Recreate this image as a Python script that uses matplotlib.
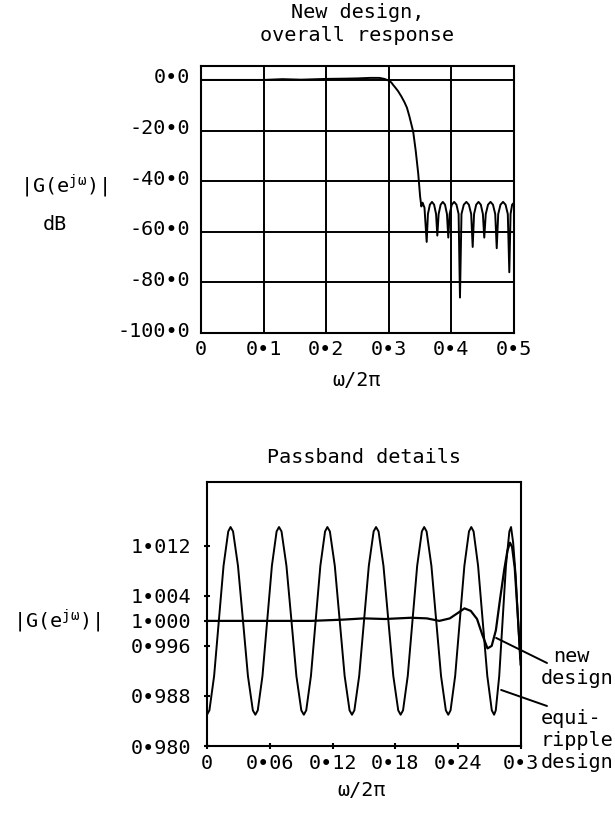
import numpy as np
import matplotlib.pyplot as plt
import matplotlib.transforms as mtransforms

plt.rcParams['font.family'] = 'DejaVu Sans Mono'
plt.rcParams['mathtext.fontset'] = 'custom'
plt.rcParams['mathtext.rm'] = 'DejaVu Sans Mono'
plt.rcParams['mathtext.it'] = 'DejaVu Sans Mono'

# overall response of the new design (dB)
overall_f = [0.000, 0.050, 0.100, 0.130, 0.160, 0.200, 0.230, 0.250, 0.270, 0.285, 0.293,
             0.300, 0.304, 0.307, 0.311, 0.315, 0.320, 0.325, 0.329, 0.333, 0.336, 0.339,
             0.343, 0.347, 0.350, 0.352, 0.354, 0.357,
             0.3605, 0.3625, 0.3656, 0.3690, 0.3724, 0.3755,
             0.3775, 0.3796, 0.3828, 0.3863, 0.3898, 0.3929,
             0.3950, 0.3972, 0.4006, 0.4044, 0.4081, 0.4115,
             0.4137, 0.4161, 0.4198, 0.4239, 0.4279, 0.4316,
             0.4340, 0.4362, 0.4396, 0.4433, 0.4470, 0.4503,
             0.4525, 0.4549, 0.4585, 0.4625, 0.4664, 0.4700,
             0.4724, 0.4748, 0.4784, 0.4825, 0.4865, 0.4901,
             0.4925, 0.4945, 0.4970, 0.5000]
overall_db = [0.0, 0.0, 0.0, 0.3, 0.1, 0.4, 0.5, 0.6, 0.8, 0.8, 0.4,
              -0.3, -1.0, -2.0, -3.2, -4.5, -6.5, -8.8, -11.0, -14.5, -17.5, -20.5,
              -28.0, -37.0, -46.0, -50.0, -48.5, -50.5,
              -64.0, -53.0, -49.3, -48.2, -49.3, -53.0,
              -61.5, -53.0, -49.3, -48.2, -49.3, -53.0,
              -62.3, -53.0, -49.3, -48.2, -49.3, -53.0,
              -86.0, -53.0, -49.3, -48.2, -49.3, -53.0,
              -66.0, -53.0, -49.3, -48.2, -49.3, -53.0,
              -62.3, -53.0, -49.3, -48.2, -49.3, -53.0,
              -66.5, -53.0, -49.3, -48.2, -49.3, -53.0,
              -76.0, -53.0, -49.3, -48.5]

# passband detail: equiripple design
eq_f = [0.0000, 0.0023, 0.0068, 0.0113, 0.0158, 0.0203,
        0.0225, 0.0249, 0.0296, 0.0344, 0.0391, 0.0438,
        0.0462, 0.0485, 0.0530, 0.0575, 0.0620, 0.0665,
        0.0688, 0.0712, 0.0759, 0.0807, 0.0854, 0.0901,
        0.0925, 0.0948, 0.0993, 0.1038, 0.1083, 0.1128,
        0.1150, 0.1174, 0.1221, 0.1268, 0.1315, 0.1362,
        0.1385, 0.1408, 0.1454, 0.1500, 0.1546, 0.1592,
        0.1615, 0.1639, 0.1686, 0.1733, 0.1780, 0.1827,
        0.1850, 0.1873, 0.1918, 0.1963, 0.2008, 0.2053,
        0.2075, 0.2098, 0.2144, 0.2190, 0.2236, 0.2282,
        0.2305, 0.2327, 0.2371, 0.2415, 0.2459, 0.2503,
        0.2525, 0.2547, 0.2590, 0.2634, 0.2678, 0.2721,
        0.2743, 0.2759, 0.2792, 0.2824, 0.2856, 0.2889,
        0.2905, 0.2925, 0.2950, 0.2975, 0.2995]
eq_mag = [0.9850, 0.9857, 0.9912, 1.0000, 1.0088, 1.0143,
          1.0150, 1.0143, 1.0088, 1.0000, 0.9912, 0.9857,
          0.9850, 0.9857, 0.9912, 1.0000, 1.0088, 1.0143,
          1.0150, 1.0143, 1.0088, 1.0000, 0.9912, 0.9857,
          0.9850, 0.9857, 0.9912, 1.0000, 1.0088, 1.0143,
          1.0150, 1.0143, 1.0088, 1.0000, 0.9912, 0.9857,
          0.9850, 0.9857, 0.9912, 1.0000, 1.0088, 1.0143,
          1.0150, 1.0143, 1.0088, 1.0000, 0.9912, 0.9857,
          0.9850, 0.9857, 0.9912, 1.0000, 1.0088, 1.0143,
          1.0150, 1.0143, 1.0088, 1.0000, 0.9912, 0.9857,
          0.9850, 0.9857, 0.9912, 1.0000, 1.0088, 1.0143,
          1.0150, 1.0143, 1.0088, 1.0000, 0.9912, 0.9857,
          0.9850, 0.9857, 0.9912, 1.0000, 1.0088, 1.0143,
          1.0150, 1.0125, 1.0070, 0.9990, 0.9930]

# passband detail: new design
new_f = [0.000, 0.050, 0.100, 0.130, 0.150, 0.170, 0.195, 0.210, 0.222, 0.232, 0.240,
         0.246, 0.252, 0.258, 0.263, 0.268, 0.272, 0.276, 0.280, 0.284, 0.2870,
         0.2895, 0.2915, 0.2940, 0.2965, 0.2995]
new_mag = [1.0000, 1.0000, 1.0000, 1.0002, 1.0004, 1.0003, 1.0005, 1.0004, 1.0000, 1.0004, 1.0013,
           1.0020, 1.0016, 1.0003, 0.9978, 0.9956, 0.9960, 0.9985, 1.0035, 1.0082, 1.0112,
           1.0125, 1.0118, 1.0085, 1.0020, 0.9940]

top_xticks = [0, 0.1, 0.2, 0.3, 0.4, 0.5]
top_xlabels = ['0', '0•1', '0•2', '0•3', '0•4', '0•5']
top_yticks = [0, -20, -40, -60, -80, -100]
top_ylabels = ['0•0', '-20•0', '-40•0', '-60•0', '-80•0', '-100•0']
bot_xticks = [0, 0.06, 0.12, 0.18, 0.24, 0.3]
bot_xlabels = ['0', '0•06', '0•12', '0•18', '0•24', '0•3']
bot_yticks = [1.012, 1.004, 1.000, 0.996, 0.988, 0.980]
bot_ylabels = ['1•012', '1•004', '1•000', '0•996', '0•988', '0•980']

FS = 14.5
W, H = 615.0, 816.0

fig = plt.figure(figsize=(6.15, 8.16), dpi=100)

# ---- top: overall response ----
ax1 = fig.add_axes([201 / W, 1 - 333 / H, 313 / W, 267 / H])
ax1.plot(overall_f, overall_db, color='k', lw=1.4)
ax1.set_xlim(0, 0.5)
ax1.set_ylim(-100, 5.5)
ax1.set_xticks(top_xticks)
ax1.set_xticklabels(top_xlabels)
ax1.set_yticks(top_yticks)
ax1.set_yticklabels(top_ylabels)
ax1.tick_params(length=0, labelsize=FS)
ax1.tick_params(axis='y', pad=8)
ax1.tick_params(axis='x', pad=5)
# y labels sit a little above their grid lines in the original
up = mtransforms.ScaledTranslation(0, 4 / 100, fig.dpi_scale_trans)
for lab in ax1.get_yticklabels():
    lab.set_transform(lab.get_transform() + up)
ax1.grid(True, color='k', lw=1.4)
for s in ax1.spines.values():
    s.set_linewidth(1.5)
ax1.set_title('New design,\noverall response', fontsize=FS, pad=18, linespacing=1.25)
fig.text(64 / W, 1 - 186 / H, '|G(e$^{jω}$)|', fontsize=FS, ha='center', va='center')
fig.text(55 / W, 1 - 225 / H, 'dB', fontsize=FS, ha='center', va='center')
fig.text(357 / W, 1 - 380 / H, 'ω/2π', fontsize=FS, ha='center', va='center')

# ---- bottom: passband details ----
ax2 = fig.add_axes([207 / W, 1 - 746 / H, 314 / W, 264 / H])
ax2.plot(eq_f, eq_mag, color='k', lw=1.4)
ax2.plot(new_f, new_mag, color='k', lw=1.6)
ax2.set_xlim(0, 0.3)
ax2.set_ylim(0.980, 1.0222)
ax2.set_xticks(bot_xticks)
ax2.set_xticklabels(bot_xlabels)
ax2.set_yticks(bot_yticks)
ax2.set_yticklabels(bot_ylabels)
ax2.tick_params(direction='inout', length=5, width=1.5, labelsize=FS)
ax2.tick_params(axis='y', pad=9)
ax2.tick_params(axis='x', pad=3)
for s in ax2.spines.values():
    s.set_linewidth(1.5)
ax2.set_title('Passband details', fontsize=FS, pad=14)
fig.text(57 / W, 1 - 621 / H, '|G(e$^{jω}$)|', fontsize=FS, ha='center', va='center')
fig.text(362 / W, 1 - 790 / H, 'ω/2π', fontsize=FS, ha='center', va='center')

# leader lines and labels
ax2.annotate('', xy=(0.2762, 0.99728), xytext=(547 / W, 1 - 663 / H),
             textcoords='figure fraction',
             arrowprops=dict(arrowstyle='-', color='k', lw=1.4, shrinkA=0, shrinkB=0))
ax2.annotate('', xy=(0.281, 0.98896), xytext=(547 / W, 1 - 706 / H),
             textcoords='figure fraction',
             arrowprops=dict(arrowstyle='-', color='k', lw=1.4, shrinkA=0, shrinkB=0))
fig.text(553 / W, 1 - 657 / H, 'new', fontsize=FS, ha='left', va='center')
fig.text(541 / W, 1 - 679 / H, 'design', fontsize=FS, ha='left', va='center')
fig.text(541 / W, 1 - 718 / H, 'equi-', fontsize=FS, ha='left', va='center')
fig.text(541 / W, 1 - 740 / H, 'ripple', fontsize=FS, ha='left', va='center')
fig.text(541 / W, 1 - 763 / H, 'design', fontsize=FS, ha='left', va='center')

fig.savefig('out.png', dpi=100, facecolor='white')
